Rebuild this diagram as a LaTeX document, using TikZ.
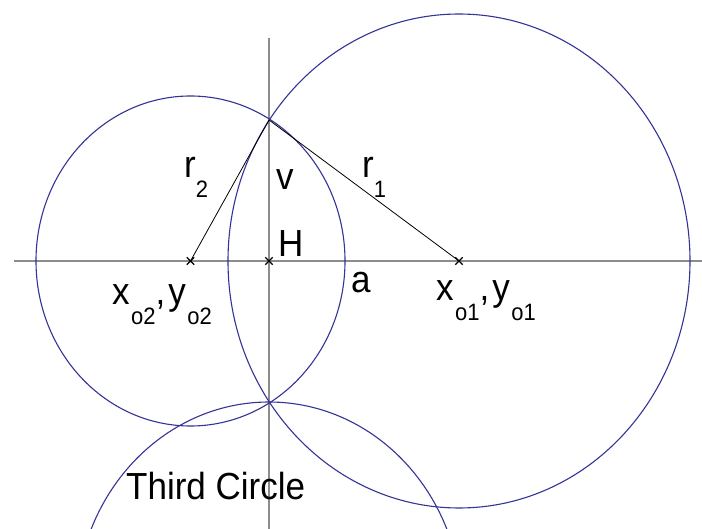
\documentclass[tikz,border=0pt]{standalone}
\usepackage{fontspec}
\setmainfont{Liberation Sans}
\usetikzlibrary{shapes.misc}
\definecolor{circblue}{RGB}{52,52,150}
\definecolor{axisgrey}{RGB}{140,140,140}
\newcommand{\mysub}[2][1.5pt]{\kern#1\raisebox{-18pt}{\fontsize{22}{22}\selectfont #2}}
\newcommand{\lbl}[1]{\scalebox{1}[1.078]{#1}}
\begin{document}
\begin{tikzpicture}[x=1pt,y=-1pt,
  axis/.style={draw=axisgrey, line width=1.6pt},
  circ/.style={draw=circblue, line width=1.1pt},
  radiusline/.style={draw=black, line width=0.8pt},
  ctr/.style={cross out, draw=black, line width=1.3pt, minimum size=6pt, inner sep=0pt},
  lab/.style={anchor=base west, inner sep=0pt, font=\fontsize{35}{40}\selectfont, text=black}]
\useasboundingbox[fill=white] (0,0) rectangle (702,529);
% axes
\coordinate (hl) at (14,261);
\coordinate (hr) at (702,261);
\coordinate (vt) at (269,38);
\coordinate (vb) at (269,529);
\draw[axis] (hl) -- (hr);
\draw[axis] (vt) -- (vb);
% circles
\begin{scope}
\clip (0,0) rectangle (702,529);
\draw[circ] (190.5,261) ellipse [x radius=154.5, y radius=165];
\draw[circ] (459,261) ellipse [x radius=231, y radius=247];
\draw[circ] (269,610) ellipse [x radius=193, y radius=208];
\end{scope}
% centre marks
\node[ctr] (o2) at (190.5,261) {};
\node[ctr] (o1) at (459,261) {};
\node[ctr] (h) at (269,261) {};
\coordinate (top) at (269,120);
% radii
\draw[radiusline] (top) -- (o2.center);
\draw[radiusline] (top) -- (o1.center);
% labels
\node[lab] (r2) at (184,178) {\lbl{r\mysub[0pt]{2}}};
\node[lab] (r1) at (362,178) {\lbl{r\mysub[0pt]{1}}};
\node[lab] (v) at (276,190) {\lbl{v}};
\node[lab] (H) at (278,257) {\lbl{H}};
\node[lab] (a) at (351,293) {\lbl{a}};
\node[lab] (xo2) at (112,305) {\lbl{x\mysub{o2},\kern3pt y\mysub{o2}}};
\node[lab] (xo1) at (436,301) {\lbl{x\mysub{o1},\kern3pt y\mysub{o1}}};
\node[lab] (third) at (126,499) {\lbl{Third Circle}};
\end{tikzpicture}
\end{document}
